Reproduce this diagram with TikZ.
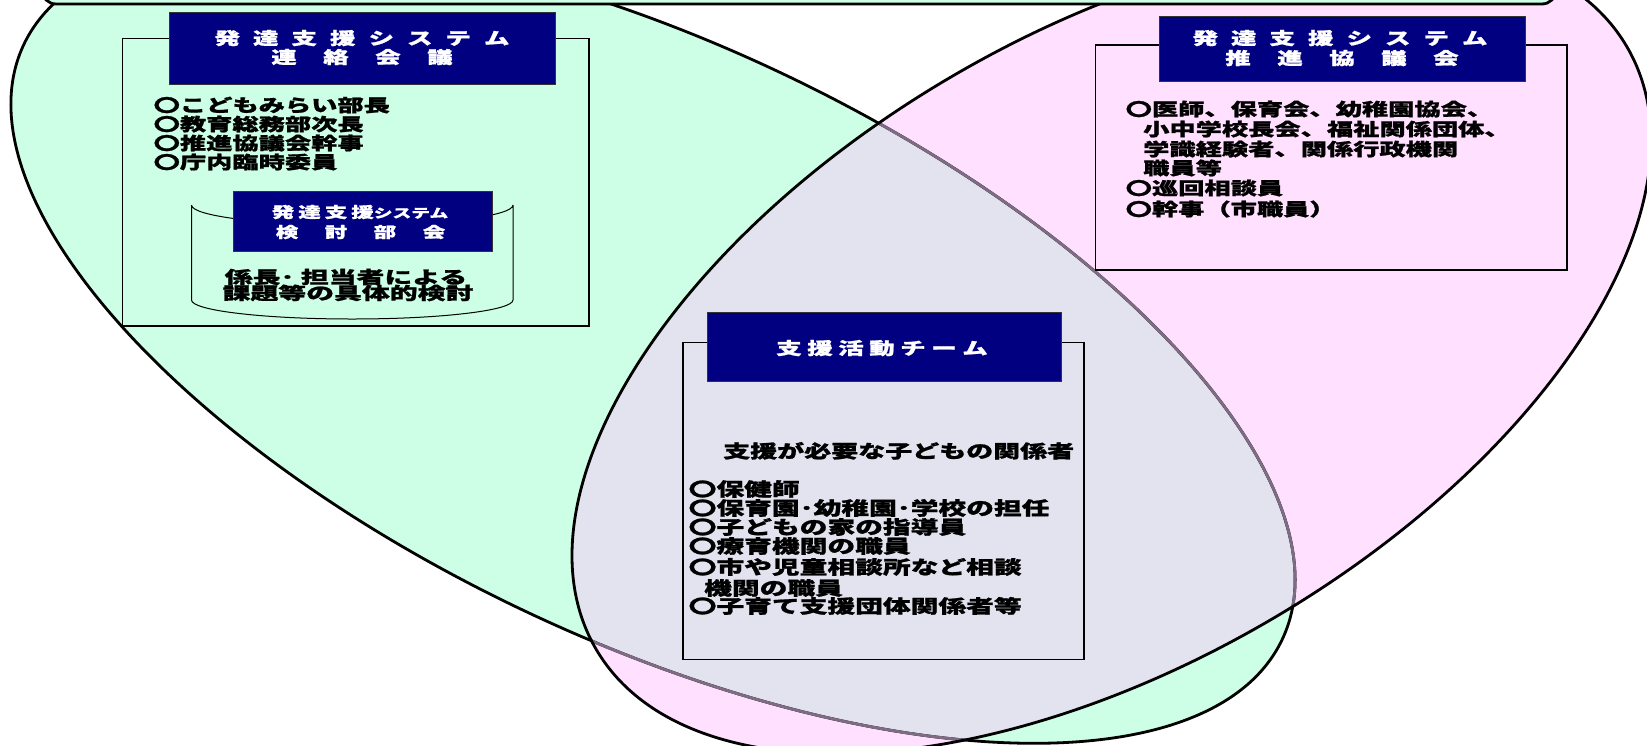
\documentclass[tikz,border=0pt]{standalone}
\usepackage{fontspec}
\setmainfont{Noto Sans CJK JP}[FakeStretch=1.5, BoldFeatures={FakeBold=1.2}]
\newfontfamily\cylfont{Noto Sans CJK JP}[FakeStretch=1.62, BoldFeatures={FakeBold=1.2}]
\definecolor{egreen}{HTML}{CCFFE5}
\definecolor{epink}{HTML}{FFE0FE}
\definecolor{elav}{HTML}{E3E3EF}
\definecolor{eline}{HTML}{7E6B84}
\definecolor{hnavy}{HTML}{000080}
\newcommand\gA{\hspace{13pt}}
\newcommand\gB{\hspace{26.5pt}}
\newcommand\gC{\hspace{4pt}}
\newcommand\gD{\hspace{5.5pt}}
\begin{document}
\begin{tikzpicture}[x=1pt,y=-1pt,
  gE/.style={shift={(653,342)},rotate=-25.3},
  pE/.style={shift={(1111.5,348)},rotate=30.3},
  outl/.style={line width=2.8pt},
  frame/.style={draw=black, line width=1.5pt},
  hdr/.style={draw=black!80, line width=0.8pt, fill=hnavy},
  htxt/.style={anchor=base, inner sep=0, text=white, font=\fontsize{17}{17}\selectfont\bfseries},
  htxs/.style={anchor=base, inner sep=0, text=white, font=\fontsize{15}{15}\selectfont\bfseries},
  item/.style={anchor=base west, inner sep=0, font=\fontsize{17.5}{17.5}\selectfont\bfseries},
  itemb/.style={anchor=base west, inner sep=0, font=\fontsize{18.5}{18.5}\selectfont\bfseries},
  ctxt/.style={anchor=base, inner sep=0, font=\cylfont\fontsize{17.2}{17.2}\selectfont\bfseries}]
\useasboundingbox (0,0) rectangle (1647,745);
\clip (0,0) rectangle (1647,745);
% ellipses
\fill[gE, egreen] (0,0) ellipse [x radius=696, y radius=298];
\fill[pE, epink] (0,0) ellipse [x radius=597, y radius=315];
\begin{scope}
  \clip[gE] (0,0) ellipse [x radius=696, y radius=298];
  \fill[pE, elav] (0,0) ellipse [x radius=597, y radius=315];
\end{scope}
\draw[gE, outl] (0,0) ellipse [x radius=696, y radius=298];
\begin{scope}
  \clip[pE] (0,0) ellipse [x radius=597, y radius=315];
  \draw[gE, outl, draw=eline] (0,0) ellipse [x radius=696, y radius=298];
\end{scope}
\draw[pE, outl] (0,0) ellipse [x radius=597, y radius=315];
% top rounded box
\draw[outl, fill=egreen, rounded corners=14pt] (42,-40) rectangle (1556,4);
% box 1
\draw[frame] (122.5,38.5) rectangle (589,326);
\draw[hdr] (169.5,12.7) rectangle (555.5,84);
\node[htxt] (h1a) at (362,44.5) {発\gA 達\gA 支\gA 援\gA シ\gA ス\gA テ\gA ム};
\node[htxt] (h1b) at (362,63.5) {連\gB 絡\gB 会\gB 議};
\node[item] (a1) at (153.5,111.7) {〇こどもみらい部長};
\node[item] (a2) at (153.5,130.7) {〇教育総務部次長};
\node[item] (a3) at (153.5,149.7) {〇推進協議会幹事};
\node[item] (a4) at (153.5,168.7) {〇庁内臨時委員};
% cylinder
\draw[line width=1pt] (191.5,205) arc[start angle=180, end angle=0, x radius=160.75, y radius=20]
  (191.5,205) -- (191.5,300) arc[start angle=180, end angle=0, x radius=160.75, y radius=19] -- (513,205);
\draw[hdr] (233,191) rectangle (492,251);
\node[htxs] (h3a) at (360,217.7) {発\gC 達\gC 支\gC 援{\fontsize{12.5}{12.5}\selectfont システム}};
\node[htxs] (h3b) at (360.5,237.7) {検\gB 討\gB 部\gB 会};
\node[ctxt] (c1) at (346,283.5) {係長･ 担当者による};
\node[ctxt] (c2) at (348,299.5) {課題等の具体的検討};
% box 2
\draw[frame] (1095.6,45) rectangle (1567,270);
\draw[hdr] (1159.7,16) rectangle (1525,81.7);
\node[htxt] (h2a) at (1340,44.5) {発\gA 達\gA 支\gA 援\gA シ\gA ス\gA テ\gA ム};
\node[htxt] (h2b) at (1342,64.5) {推\gB 進\gB 協\gB 議\gB 会};
\node[item] (b1) at (1125.5,115.7) {〇医師、保育会、幼稚園協会、};
\node[item] (b2) at (1143,135.7) {小中学校長会、福祉関係団体、};
\node[item] (b3) at (1143,155.7) {学識経験者、関係行政機関};
\node[item] (b4) at (1143,174.7) {職員等};
\node[item] (b5) at (1125.5,194.7) {〇巡回相談員};
\node[item] (b6) at (1125.5,215.7) {〇幹事（市職員）};
% box 3
\draw[frame] (682.8,342.7) rectangle (1084,659.7);
\draw[hdr] (707,312.7) rectangle (1061,381.3);
\node[htxt] (h4) at (882,354.5) {支\gD 援\gD 活\gD 動\gD チ\gD ー\gD ム};
\node[itemb, font=\fontsize{18}{18}\selectfont\bfseries] (t0) at (723,457.8) {支援が必要な子どもの関係者};
\node[itemb] (t1) at (688.5,496) {〇保健師};
\node[itemb] (t2) at (688.5,515) {〇保育園･幼稚園･学校の担任};
\node[itemb] (t3) at (688.5,534) {〇子どもの家の指導員};
\node[itemb] (t4) at (688.5,553) {〇療育機関の職員};
\node[itemb] (t5) at (688.5,574) {〇市や児童相談所など相談};
\node[itemb] (t6) at (704,595) {機関の職員};
\node[itemb] (t7) at (688.5,613) {〇子育て支援団体関係者等};
\end{tikzpicture}
\end{document}
